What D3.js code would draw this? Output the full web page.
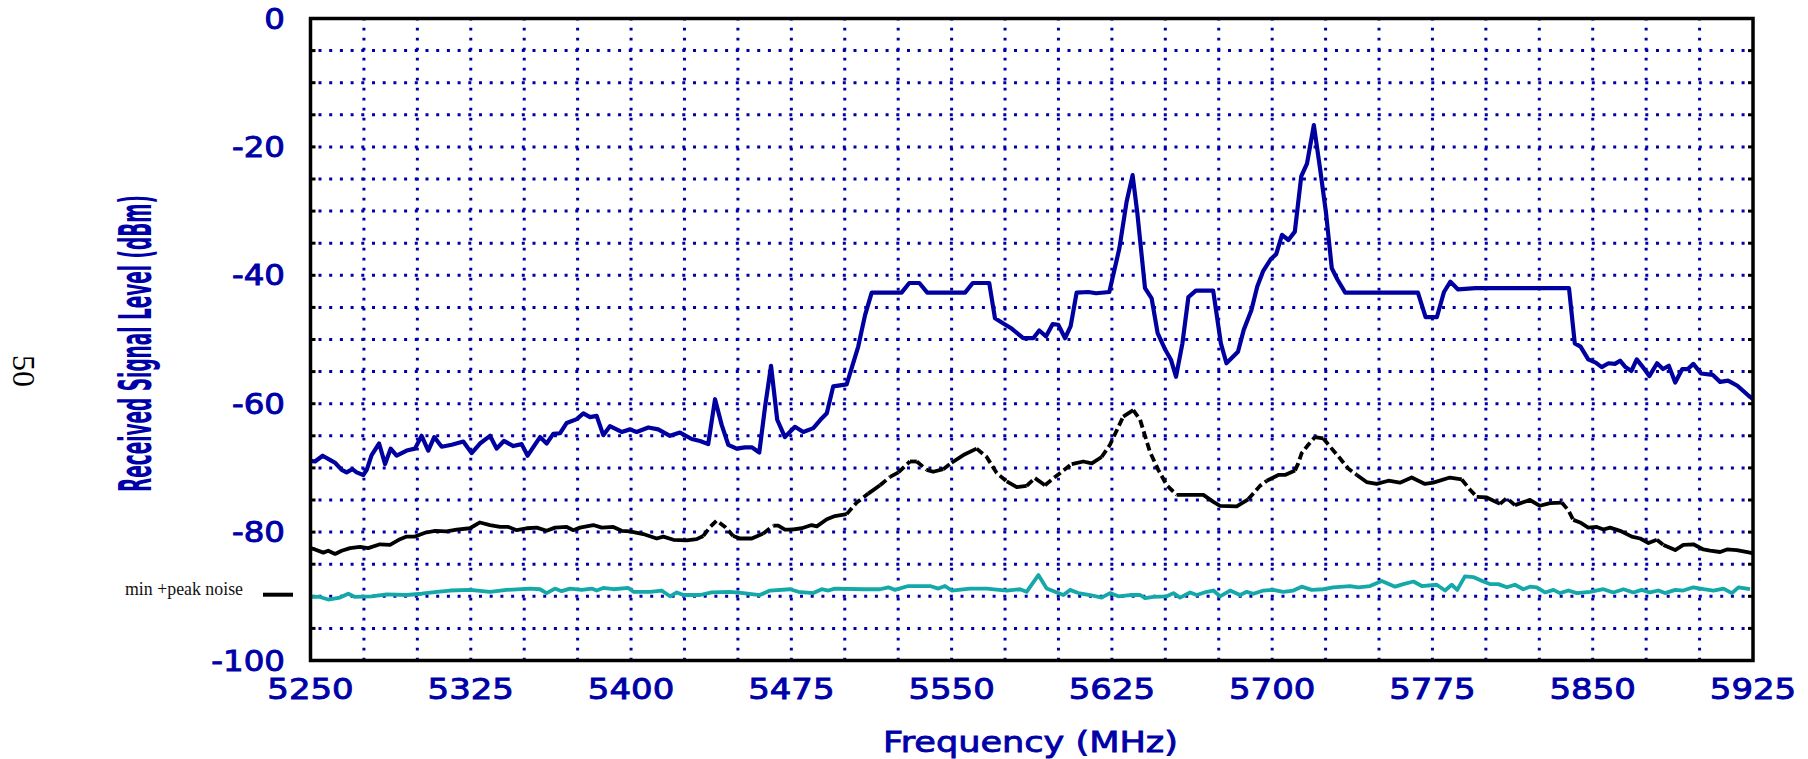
<!DOCTYPE html>
<html>
<head>
<meta charset="utf-8">
<script src="https://d3js.org/d3.v7.min.js"></script>
<style>
	body { margin: 0; background: white; }
	svg { display: block; }
</style>
</head>
<body>
<div id="chart"></div>
<script>

// peak trace (blue): [MHz, dBm]
var peakTrace = [[5250,-68.9],[5252.1,-69.0],[5255.7,-68.1],[5259.9,-68.9],[5261.5,-69.2],[5264.6,-70.3],[5266.9,-70.7],[5269.6,-70.2],[5271.6,-70.7],[5274.7,-71.1],[5276.3,-70.3],[5278.6,-68.0],[5282.1,-66.2],[5284.9,-69.4],[5287.5,-67.0],[5290.3,-68.1],[5295,-67.3],[5298.9,-67.0],[5302,-65.0],[5305.1,-67.3],[5307.9,-65.2],[5311.4,-66.7],[5316.1,-66.4],[5321.5,-65.9],[5325.4,-67.7],[5329.3,-66.2],[5334,-65.0],[5337.1,-67.0],[5340.5,-65.8],[5344.9,-66.6],[5348.8,-66.3],[5351.6,-68.1],[5357.4,-65.2],[5360.5,-66.2],[5363.6,-64.7],[5366.8,-64.6],[5369.9,-63.0],[5374.6,-62.4],[5377.7,-61.5],[5380.8,-62.1],[5383.9,-61.9],[5387,-64.9],[5390.1,-63.5],[5395.6,-64.4],[5399.5,-64.0],[5402.6,-64.4],[5408.1,-63.7],[5412.7,-64.0],[5418.2,-65.0],[5422.9,-64.5],[5428.4,-65.5],[5432.3,-65.8],[5436.1,-66.3],[5439.3,-59.3],[5442.4,-63.3],[5445.5,-66.4],[5449.4,-67.0],[5453.3,-66.8],[5456.5,-66.8],[5460,-67.6],[5462.7,-60.5],[5465.5,-54.1],[5468.4,-62.5],[5472,-65.2],[5476.7,-63.6],[5480.6,-64.4],[5485.3,-63.8],[5489.2,-62.3],[5491.6,-61.5],[5494.6,-57.3],[5500.9,-57.0],[5506.3,-51.1],[5509.5,-46.2],[5512.6,-42.7],[5526.6,-42.7],[5530.2,-41.2],[5534.9,-41.2],[5538.6,-42.7],[5556.3,-42.7],[5559.9,-41.2],[5567.6,-41.2],[5570.3,-46.7],[5574.2,-47.5],[5578.1,-48.3],[5583.5,-49.8],[5588.2,-49.8],[5591,-48.6],[5594.2,-49.5],[5597.3,-47.6],[5599.9,-47.7],[5603.1,-49.8],[5605.7,-47.9],[5608.5,-42.7],[5614,-42.6],[5617.6,-42.8],[5623.8,-42.6],[5628.5,-35.8],[5631.9,-28.5],[5634.7,-24.4],[5636.9,-30.3],[5640.5,-42.0],[5643.6,-43.6],[5646.4,-49.0],[5650,-51.6],[5652.7,-53.2],[5655,-55.8],[5658,-50.6],[5660.8,-43.4],[5664.3,-42.4],[5672.4,-42.4],[5676,-50.6],[5678.6,-53.7],[5684,-51.9],[5686.7,-48.5],[5690.3,-45.4],[5693,-41.8],[5695.7,-39.4],[5699.3,-37.5],[5701.9,-36.7],[5704.6,-33.7],[5707.6,-34.5],[5710.6,-33.2],[5713.6,-24.6],[5716.3,-22.6],[5719.5,-16.6],[5722.5,-23.6],[5725.2,-30.3],[5727.9,-38.9],[5730.6,-40.7],[5734.2,-42.7],[5768.2,-42.7],[5771.8,-46.5],[5777.1,-46.5],[5780.4,-42.6],[5783.4,-41.0],[5787,-42.2],[5795.1,-42.0],[5838.9,-42.0],[5841.6,-50.6],[5844.3,-51.1],[5847.9,-53.1],[5851.4,-53.6],[5854.2,-54.3],[5857.4,-53.7],[5860.4,-53.8],[5862.8,-53.3],[5865.3,-54.3],[5868.1,-54.9],[5870.6,-53.1],[5873,-54.1],[5876.5,-55.7],[5880.1,-53.7],[5882.9,-54.6],[5885.6,-54.1],[5888.6,-56.7],[5891.9,-54.6],[5894.5,-54.6],[5897.1,-53.8],[5900.7,-55.3],[5906.1,-55.5],[5909.6,-56.6],[5913.3,-56.4],[5917.7,-57.2],[5923.1,-58.8],[5925,-59.3]];

// average trace (black)
var averageTrace = [[5250,-82.5],[5252.1,-82.7],[5256,-83.2],[5258.3,-82.9],[5261.5,-83.4],[5264.6,-82.9],[5268.5,-82.5],[5273.2,-82.3],[5277,-82.5],[5282.5,-81.9],[5287.2,-82.0],[5291.9,-81.1],[5295,-80.7],[5298.9,-80.7],[5303.6,-80.1],[5308.3,-79.8],[5313.7,-79.9],[5318.4,-79.6],[5324.6,-79.4],[5329.3,-78.5],[5334,-78.9],[5338.7,-79.2],[5342.6,-79.2],[5346.5,-79.7],[5351.2,-79.4],[5355.9,-79.3],[5360.5,-79.8],[5364.4,-79.3],[5369.9,-79.2],[5373,-79.7],[5376.1,-79.3],[5382.3,-78.9],[5386.3,-79.3],[5391.7,-79.2],[5395.6,-79.8],[5399.5,-79.9],[5405.7,-80.3],[5412,-81.0],[5415.1,-80.7],[5419.8,-81.2],[5426,-81.3],[5430.7,-81.1],[5433.8,-80.6],[5437,-79.2],[5440.1,-78.2],[5444,-79.2],[5447.8,-80.6],[5451,-81.0],[5456.5,-81.0],[5461.9,-80.2],[5466.6,-79.0],[5468.9,-79.0],[5472,-79.6],[5475.2,-79.6],[5479.9,-79.4],[5484.5,-78.9],[5486.9,-79.1],[5491.6,-78.0],[5495.4,-77.5],[5500.9,-77.2],[5505.6,-75.4],[5511,-74.0],[5516.5,-72.7],[5521.2,-71.4],[5525.1,-70.7],[5530.5,-69.0],[5533.7,-69.0],[5538.3,-70.3],[5541.4,-70.6],[5546.1,-70.2],[5550,-69.2],[5555.5,-68.0],[5561.7,-67.0],[5566.4,-68.3],[5571.1,-70.8],[5575.8,-72.1],[5580.5,-73.0],[5585.1,-72.8],[5589,-71.6],[5593.7,-72.7],[5598.4,-71.4],[5606.2,-69.4],[5611.6,-69.0],[5615.6,-69.3],[5620.2,-68.3],[5624.1,-66.4],[5630.3,-62.0],[5635,-61.0],[5638.2,-62.5],[5642.8,-67.5],[5646.7,-70.3],[5650.7,-72.7],[5655.3,-74.2],[5660,-74.2],[5667.8,-74.2],[5672.5,-75.3],[5675.6,-75.9],[5683.4,-76.0],[5688.8,-74.9],[5694.3,-72.8],[5697.5,-72.0],[5702.9,-71.1],[5706,-71.1],[5710.7,-70.4],[5712.2,-69.3],[5713.8,-67.7],[5716.9,-66.4],[5720,-65.2],[5723.9,-65.4],[5727.1,-66.7],[5731.7,-68.5],[5735.6,-70.1],[5739.6,-71.1],[5744.2,-72.2],[5748.9,-72.5],[5754.4,-72.0],[5759.8,-72.3],[5765.3,-71.5],[5771.5,-72.5],[5775.4,-72.3],[5783.2,-71.5],[5788.7,-71.8],[5792.6,-73.4],[5795.7,-74.5],[5800.4,-74.6],[5806.6,-75.6],[5809.8,-74.7],[5813.6,-75.8],[5820.6,-75.0],[5825.3,-75.9],[5830,-75.5],[5835.5,-75.4],[5838.6,-76.6],[5840.9,-78.1],[5844.1,-78.5],[5847.9,-79.3],[5851.9,-79.2],[5855,-79.6],[5858.1,-79.3],[5862.8,-79.8],[5868.3,-80.7],[5872.2,-81.0],[5876.1,-81.7],[5880,-81.2],[5883.1,-82.0],[5888.6,-82.8],[5892.4,-82.0],[5897.1,-81.9],[5901.8,-82.7],[5904.9,-82.9],[5909.6,-83.1],[5912.8,-82.7],[5917.4,-82.8],[5923.6,-83.2],[5925,-83.3]];

// min + peak noise trace (teal)
var noiseTrace = [[5250,-90.1],[5254.4,-90.1],[5258.3,-90.5],[5263.8,-90.2],[5267.7,-89.6],[5270.8,-90.1],[5278.6,-90.0],[5285.7,-89.7],[5295,-89.8],[5302,-89.6],[5309.1,-89.3],[5315.3,-89.1],[5324.6,-89.0],[5334,-89.3],[5341.8,-89.0],[5352.7,-88.8],[5357.4,-88.9],[5360.5,-89.5],[5364.4,-88.8],[5367.5,-89.2],[5371.4,-88.8],[5376.9,-89.0],[5381.6,-88.8],[5383.9,-89.1],[5387,-88.7],[5391.7,-88.9],[5398.7,-88.7],[5401.1,-89.3],[5408.9,-89.3],[5414.3,-89.1],[5418.2,-90.0],[5421.4,-89.4],[5424.5,-89.8],[5432.3,-89.8],[5437.7,-89.4],[5446.3,-89.3],[5452.5,-89.5],[5460.3,-89.8],[5465,-89.1],[5474.4,-88.9],[5478.3,-89.3],[5485.3,-89.5],[5489.2,-88.9],[5492.3,-89.1],[5495.4,-88.8],[5508.7,-88.9],[5516.5,-88.9],[5520.4,-88.6],[5523.5,-89.0],[5529.7,-88.4],[5539.9,-88.4],[5543.8,-88.8],[5546.9,-88.4],[5550,-89.1],[5558.6,-88.8],[5566.4,-88.8],[5575.8,-89.1],[5582,-88.9],[5585.1,-89.3],[5590.6,-86.7],[5594.5,-88.8],[5598.4,-89.3],[5602.3,-89.8],[5605.4,-89.0],[5609.3,-89.5],[5614.8,-89.8],[5620.2,-90.2],[5624.1,-89.5],[5628,-90.0],[5633.5,-89.8],[5638.2,-89.8],[5640.5,-90.3],[5644.4,-90.1],[5650.7,-90.0],[5653.8,-89.5],[5656.9,-90.2],[5661.6,-89.4],[5664.7,-89.8],[5669.4,-89.3],[5672.5,-89.1],[5675.6,-90.0],[5680.3,-89.1],[5685,-89.8],[5688.1,-89.3],[5691.2,-89.6],[5695.9,-89.1],[5700.5,-89.0],[5705.2,-89.3],[5709.9,-89.1],[5713.8,-88.5],[5718.5,-89.0],[5723.9,-88.9],[5728.6,-88.6],[5736.4,-88.4],[5740.3,-88.6],[5745.8,-88.4],[5751.3,-87.6],[5757.5,-88.5],[5761.4,-88.1],[5766.1,-87.7],[5770,-88.4],[5777,-88.2],[5780.9,-89.1],[5784,-88.2],[5786.6,-89.0],[5790.2,-86.9],[5794.1,-87.0],[5798.8,-87.7],[5801.9,-88.1],[5805.8,-88.1],[5809.8,-88.6],[5813.6,-88.2],[5817.5,-88.9],[5820.6,-88.5],[5823.8,-88.6],[5827.7,-89.4],[5831.6,-89.0],[5834.7,-89.5],[5838.6,-89.1],[5842.6,-89.5],[5848.7,-89.3],[5855,-88.9],[5859.6,-89.4],[5864.4,-88.9],[5869,-89.4],[5872.9,-89.0],[5876.8,-89.4],[5880.7,-89.1],[5883.8,-89.5],[5888.6,-89.0],[5892.4,-89.1],[5897.1,-88.6],[5901.8,-88.9],[5906.5,-89.1],[5911.2,-88.8],[5915.1,-89.5],[5918.2,-88.6],[5923.6,-88.9]];

var xTickLabels = [5250, 5325, 5400, 5475, 5550, 5625, 5700, 5775, 5850, 5925];
var yTickLabels = [0, -20, -40, -60, -80, -100];
var xGridStep = 25;
var yGridStep = 5;

var blue = '#0000a8';
var svgWidth = 1808, svgHeight = 759;
var plotLeft = 310.5, plotRight = 1753, plotTop = 18.5, plotBottom = 660.5;

var svg = d3.select('#chart').append('svg')
	.attr('width', svgWidth)
	.attr('height', svgHeight);

var x = d3.scaleLinear().domain([5250, 5925]).range([plotLeft, plotRight]);
var y = d3.scaleLinear().domain([-100, 0]).range([plotBottom, plotTop]);

// dotted grid
var g = svg.append('g');

g.selectAll('.hgrid').data(d3.range(-95, 0, yGridStep)).enter().append('line')
	.attr('class', 'hgrid')
	.attr('x1', plotLeft).attr('x2', plotRight)
	.attr('y1', function(d) {return y(d)})
	.attr('y2', function(d) {return y(d)})
	.attr('stroke', blue)
	.attr('stroke-width', 3)
	.attr('stroke-dasharray', '3 7.7')
	.attr('stroke-dashoffset', -8)

g.selectAll('.vgrid').data(d3.range(5250 + xGridStep, 5925, xGridStep)).enter().append('line')
	.attr('class', 'vgrid')
	.attr('x1', function(d) {return x(d)})
	.attr('x2', function(d) {return x(d)})
	.attr('y1', plotBottom).attr('y2', plotTop)
	.attr('stroke', blue)
	.attr('stroke-width', 3)
	.attr('stroke-dasharray', '2.8 7.2')

// small inward ticks on left and right frame
g.selectAll('.ltick').data(d3.range(-95, 0, yGridStep)).enter().append('line')
	.attr('x1', plotLeft).attr('x2', plotLeft + 5)
	.attr('y1', function(d) {return y(d)})
	.attr('y2', function(d) {return y(d)})
	.attr('stroke', 'black').attr('stroke-width', 3)

g.selectAll('.rtick').data(d3.range(-95, 0, yGridStep)).enter().append('line')
	.attr('x1', plotRight - 5).attr('x2', plotRight)
	.attr('y1', function(d) {return y(d)})
	.attr('y2', function(d) {return y(d)})
	.attr('stroke', 'black').attr('stroke-width', 3)

// traces
svg.append('clipPath').attr('id', 'plotClip').append('rect')
	.attr('x', plotLeft).attr('y', plotTop)
	.attr('width', plotRight - plotLeft).attr('height', plotBottom - plotTop)

var traces = svg.append('g').attr('clip-path', 'url(#plotClip)');

var line = d3.line()
	.x(function(d) {return x(d[0])})
	.y(function(d) {return y(d[1])});

traces.append('path')
	.attr('d', line(noiseTrace))
	.attr('fill', 'none')
	.attr('stroke', '#14a8a8')
	.attr('stroke-width', 3.8)
	.attr('stroke-linejoin', 'round')

// the black trace looks broken up where it is steep, so split it in runs
var runs = [];
d3.pairs(averageTrace).forEach(function(p) {
	var dx = x(p[1][0]) - x(p[0][0]);
	var dy = y(p[1][1]) - y(p[0][1]);
	var steep = Math.abs(dy) > 0.75 * Math.abs(dx);
	var last = runs[runs.length - 1];
	if (last && last.steep == steep) last.pts.push(p[1]);
	else runs.push({steep: steep, pts: [p[0], p[1]]});
});

traces.selectAll('.avg').data(runs).enter().append('path')
	.attr('class', 'avg')
	.attr('d', function(d) {return line(d.pts)})
	.attr('fill', 'none')
	.attr('stroke', 'black')
	.attr('stroke-width', 3.8)
	.attr('stroke-linejoin', 'round')
	.attr('stroke-dasharray', function(d) {return d.steep ? '8 4' : null})

traces.append('path')
	.attr('d', line(peakTrace))
	.attr('fill', 'none')
	.attr('stroke', '#0000a0')
	.attr('stroke-width', 4.2)
	.attr('stroke-linejoin', 'round')

// frame
svg.append('rect')
	.attr('x', plotLeft).attr('y', plotTop)
	.attr('width', plotRight - plotLeft).attr('height', plotBottom - plotTop)
	.attr('fill', 'none')
	.attr('stroke', 'black')
	.attr('stroke-width', 3.5)

// tick labels, stretched wide like the original plotting font
var font = '"DejaVu Sans", Verdana, sans-serif';

svg.selectAll('.ylabel').data(yTickLabels).enter().append('text')
	.attr('class', 'ylabel')
	.attr('x', 285)
	.attr('y', function(d) {return y(d) + 10})
	.attr('text-anchor', 'end')
	.attr('font-family', font)
	.attr('font-size', '27.5px')
	.attr('fill', blue)
	.attr('stroke', blue)
	.attr('stroke-width', 0.9)
	.text(function(d) {return d})
	.each(function() {
		this.setAttribute('textLength', this.getComputedTextLength() * 1.18);
		this.setAttribute('lengthAdjust', 'spacingAndGlyphs');
	})

svg.selectAll('.xlabel').data(xTickLabels).enter().append('text')
	.attr('class', 'xlabel')
	.attr('x', function(d) {return x(d)})
	.attr('y', 699)
	.attr('text-anchor', 'middle')
	.attr('font-family', font)
	.attr('font-size', '29px')
	.attr('fill', blue)
	.attr('stroke', blue)
	.attr('stroke-width', 0.9)
	.text(function(d) {return d})
	.each(function() {
		this.setAttribute('textLength', this.getComputedTextLength() * 1.17);
		this.setAttribute('lengthAdjust', 'spacingAndGlyphs');
	})

// axis titles
svg.append('text')
	.attr('x', 1030.5)
	.attr('y', 751.5)
	.attr('text-anchor', 'middle')
	.attr('font-family', font)
	.attr('font-size', '27.5px')
	.attr('fill', blue)
	.attr('stroke', blue)
	.attr('stroke-width', 0.8)
	.attr('textLength', 295)
	.attr('lengthAdjust', 'spacingAndGlyphs')
	.text('Frequency (MHz)')

svg.append('text')
	.attr('transform', 'translate(150.5,343.5) rotate(-90)')
	.attr('text-anchor', 'middle')
	.attr('font-family', '"DejaVu Sans Condensed", "DejaVu Sans", sans-serif')
	.attr('font-weight', 'bold')
	.attr('font-size', '44px')
	.attr('fill', blue)
	.attr('textLength', 297)
	.attr('lengthAdjust', 'spacingAndGlyphs')
	.text('Received Signal Level (dBm)')

// legend entry and page number
svg.append('text')
	.attr('x', 125)
	.attr('y', 595)
	.attr('font-family', '"Liberation Serif", "Times New Roman", serif')
	.attr('font-size', '18px')
	.attr('fill', '#111')
	.attr('textLength', 118)
	.attr('lengthAdjust', 'spacingAndGlyphs')
	.text('min +peak noise')

svg.append('line')
	.attr('x1', 263).attr('x2', 293)
	.attr('y1', 594.7).attr('y2', 594.7)
	.attr('stroke', 'black')
	.attr('stroke-width', 4)

svg.append('text')
	.attr('transform', 'translate(13,371) rotate(90)')
	.attr('text-anchor', 'middle')
	.attr('font-family', '"Liberation Serif", "Times New Roman", serif')
	.attr('font-size', '32px')
	.attr('fill', 'black')
	.text('50')

</script>
</body>
</html>
